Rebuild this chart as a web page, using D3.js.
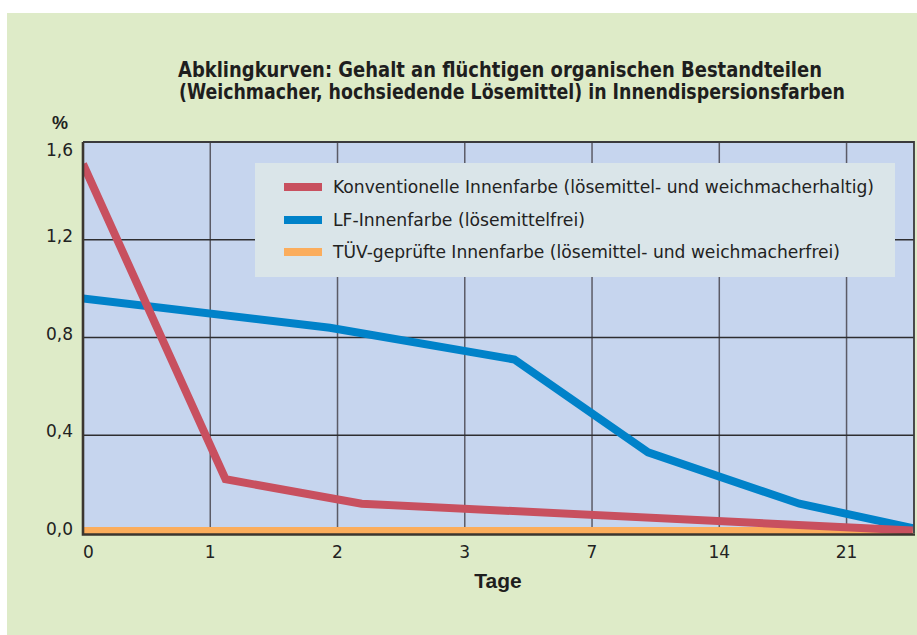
<!DOCTYPE html>
<html>
<head>
<meta charset="utf-8">
<script src="https://cdn.jsdelivr.net/npm/d3@7"></script>
<style>
  html, body { margin: 0; padding: 0; background: #fff; }
  svg { display: block; }
</style>
</head>
<body>
<svg id="chart" width="917" height="635"></svg>
<script>
// tick labels and values
const dayLabels = ["0", "1", "2", "3", "7", "14", "21"];
const yTicks = [0, 0.4, 0.8, 1.2, 1.6];
const titleLines = [
  "Abklingkurven: Gehalt an flüchtigen organischen Bestandteilen",
  "(Weichmacher, hochsiedende Lösemittel) in Innendispersionsfarben"
];
const seriesNames = [
  "Konventionelle Innenfarbe (lösemittel- und weichmacherhaltig)",
  "LF-Innenfarbe (lösemittelfrei)",
  "TÜV-geprüfte Innenfarbe (lösemittel- und weichmacherfrei)"
];
const seriesColors = ["#c8505f", "#0082c9", "#fbad5c"];

// positions along the day axis (in category steps) and % values
const konvPos = [0, 1.12, 2.19, 6.52];
const konvVal = [1.51, 0.22, 0.12, 0.01];
const lfPos = [0, 1.94, 3.39, 4.44, 5.63, 6.52];
const lfVal = [0.96, 0.84, 0.71, 0.33, 0.12, 0.02];
const tuvPos = [0, 6.52];
const tuvVal = [0.01, 0.01];

const svg = d3.select("#chart");
const W = 917, H = 635;
const plot = { left: 83, top: 142, right: 914, bottom: 533 };

// backgrounds
svg.append("rect").attr("x", 7).attr("y", 13).attr("width", W - 7).attr("height", H - 13)
  .attr("fill", "#deebc8");
svg.append("rect").attr("x", plot.left).attr("y", plot.top)
  .attr("width", plot.right - plot.left).attr("height", plot.bottom - plot.top)
  .attr("fill", "#c6d5ee");

const x = d3.scaleLinear().domain([0, 6.53]).range([plot.left, plot.right]);
const y = d3.scaleLinear().domain([0, 1.6]).range([plot.bottom, plot.top]);

// grid
svg.append("g").selectAll("line")
  .data(d3.range(1, dayLabels.length))
  .enter().append("line")
  .attr("x1", d => x(d)).attr("x2", d => x(d))
  .attr("y1", plot.top).attr("y2", plot.bottom)
  .attr("stroke", "#5b5b66").attr("stroke-width", 1.5);

svg.append("g").selectAll("line")
  .data(yTicks.filter(d => d > 0 && d < 1.6))
  .enter().append("line")
  .attr("x1", plot.left).attr("x2", plot.right)
  .attr("y1", d => y(d)).attr("y2", d => y(d))
  .attr("stroke", "#2e2e30").attr("stroke-width", 1.5);

// lines
svg.append("clipPath").attr("id", "clip").append("rect")
  .attr("x", plot.left).attr("y", plot.top)
  .attr("width", plot.right - plot.left).attr("height", plot.bottom - plot.top + 2);

const line = d3.line().x(d => x(d[0])).y(d => y(d[1]));
const series = [
  { pos: tuvPos, val: tuvVal, color: seriesColors[2], w: 7 },
  { pos: lfPos, val: lfVal, color: seriesColors[1], w: 8 },
  { pos: konvPos, val: konvVal, color: seriesColors[0], w: 8 }
];
svg.append("g").attr("clip-path", "url(#clip)")
  .selectAll("path")
  .data(series)
  .enter().append("path")
  .attr("d", d => line(d.pos.map((p, i) => [p, d.val[i]])))
  .attr("fill", "none")
  .attr("stroke", d => d.color)
  .attr("stroke-width", d => d.w)
  .attr("stroke-linejoin", "miter");

// frame
svg.append("path")
  .attr("d", `M${plot.left},${plot.top}H${plot.right}V${plot.bottom}`)
  .attr("fill", "none").attr("stroke", "#3a3a3c").attr("stroke-width", 1.8);
svg.append("path")
  .attr("d", `M${plot.left},${plot.top}V${plot.bottom + 1.5}H${plot.right + 1}`)
  .attr("fill", "none").attr("stroke", "#3b362f").attr("stroke-width", 2.6);

const font = "'DejaVu Sans', 'Liberation Sans', sans-serif";
const bold = "'Liberation Sans', Arial, sans-serif";
const narrow = "'Liberation Sans Narrow', 'DejaVu Sans Condensed', 'Liberation Sans', sans-serif";

// y tick labels
svg.append("g").selectAll("text")
  .data(yTicks)
  .enter().append("text")
  .attr("x", 73)
  .attr("y", d => Math.max(y(d) - 4, plot.top + 8))
  .attr("dy", "0.36em")
  .attr("text-anchor", "end")
  .attr("font-family", font).attr("font-size", 17).attr("fill", "#222")
  .text(d => d3.format(".1f")(d).replace(".", ","));

svg.append("text").attr("x", 60).attr("y", 129).attr("text-anchor", "middle")
  .attr("font-family", bold).attr("font-size", 18).attr("font-weight", "bold").attr("fill", "#222")
  .text("%");

// x tick labels
svg.append("g").selectAll("text")
  .data(dayLabels)
  .enter().append("text")
  .attr("x", (d, i) => x(i))
  .attr("y", 558)
  .attr("text-anchor", (d, i) => i === 0 ? "start" : "middle")
  .attr("font-family", font).attr("font-size", 17).attr("fill", "#222")
  .text(d => d);

svg.append("text").attr("x", 498).attr("y", 588).attr("text-anchor", "middle")
  .attr("font-family", bold).attr("font-size", 21).attr("font-weight", "bold").attr("fill", "#1e1e1e")
  .text("Tage");

// title
svg.append("g").selectAll("text")
  .data(titleLines)
  .enter().append("text")
  .attr("x", (d, i) => i === 0 ? 178 : 179)
  .attr("y", (d, i) => i === 0 ? 77 : 99)
  .attr("textLength", (d, i) => i === 0 ? 644 : 666)
  .attr("lengthAdjust", "spacingAndGlyphs")
  .attr("font-family", narrow).attr("font-size", 21).attr("font-weight", "bold").attr("fill", "#1e1e1e")
  .text(d => d);

// legend
const legend = svg.append("g");
legend.append("rect").attr("x", 255).attr("y", 163).attr("width", 640).attr("height", 114)
  .attr("fill", "#dae5e9");
const legendY = [187, 220, 252];
const legendW = [541, 252, 507];
const items = legend.selectAll("g.item")
  .data(seriesNames)
  .enter().append("g").attr("class", "item")
  .attr("transform", (d, i) => `translate(0,${legendY[i]})`);
items.append("rect").attr("x", 284).attr("y", -4).attr("width", 38).attr("height", 8)
  .attr("fill", (d, i) => seriesColors[i]);
items.append("text").attr("x", 333).attr("y", 0).attr("dy", "0.36em")
  .attr("textLength", (d, i) => legendW[i])
  .attr("lengthAdjust", "spacingAndGlyphs")
  .attr("font-family", font).attr("font-size", 17).attr("fill", "#222")
  .text(d => d);
</script>
</body>
</html>
